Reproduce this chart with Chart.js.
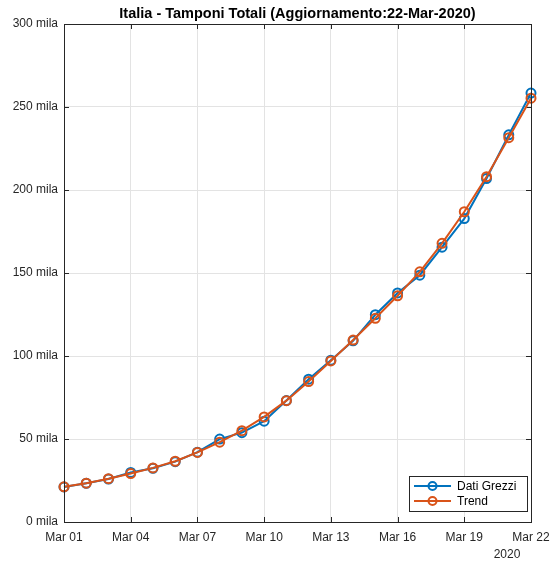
<!DOCTYPE html>
<html><head><meta charset="utf-8">
<script src="https://cdn.jsdelivr.net/npm/chart.js@4/dist/chart.umd.min.js"></script>
<style>html,body{margin:0;padding:0;background:#fff;}canvas{display:block;}</style>
</head><body>
<canvas id="c" width="553" height="564"></canvas>
<script>
const dates = ['Mar 01','Mar 02','Mar 03','Mar 04','Mar 05','Mar 06','Mar 07','Mar 08','Mar 09','Mar 10','Mar 11',
  'Mar 12','Mar 13','Mar 14','Mar 15','Mar 16','Mar 17','Mar 18','Mar 19','Mar 20','Mar 21','Mar 22'];
const datiGrezzi = [21127,23345,25856,29837,32362,36359,42062,49937,53826,60761,73154,
  86011,97488,109170,124899,137962,148657,165541,182777,206886,233222,258402];
const trend = [21200,23400,26100,29200,32600,36600,41900,48100,55000,63300,73100,
  84600,97000,109600,122700,136300,150700,167900,186900,208000,231500,255300];
const seriesNames = ['Dati Grezzi','Trend'];
const seriesColors = ['#0072BD','#D95319'];
const yearLabel = '2020';
const titleText = 'Italia - Tamponi Totali (Aggiornamento:22-Mar-2020)';

const FONT = "'Liberation Sans', Arial, Helvetica, sans-serif";
const TXT = '#262626';

function toPoints(arr){ return arr.map((v,i)=>({x:i+1,y:v})); }

const matlabPlugin = {
  id:'matlab',
  beforeDatasetsDraw(chart){
    const {ctx, chartArea:a, scales:{x,y}} = chart;
    ctx.save();
    ctx.strokeStyle = TXT; ctx.lineWidth = 1;
    const L = 5;
    x.ticks.forEach(t=>{
      const px = Math.round(x.getPixelForValue(t.value))+0.5;
      ctx.beginPath(); ctx.moveTo(px,a.bottom); ctx.lineTo(px,a.bottom-L);
      ctx.moveTo(px,a.top); ctx.lineTo(px,a.top+L); ctx.stroke();
    });
    y.ticks.forEach(t=>{
      const py = Math.round(y.getPixelForValue(t.value))+0.5;
      ctx.beginPath(); ctx.moveTo(a.left,py); ctx.lineTo(a.left+L,py);
      ctx.moveTo(a.right,py); ctx.lineTo(a.right-L,py); ctx.stroke();
    });
    ctx.restore();
  },
  afterDraw(chart){
    const {ctx, chartArea:a, scales:{x}} = chart;
    ctx.save();
    // box
    ctx.strokeStyle = TXT; ctx.lineWidth = 1;
    ctx.strokeRect(Math.round(a.left)+0.5, Math.round(a.top)+0.5, Math.round(a.right-a.left), Math.round(a.bottom-a.top));
    // title centred over the axes
    ctx.fillStyle = '#000'; ctx.font = 'bold 14.5px '+FONT;
    ctx.textAlign = 'center'; ctx.textBaseline = 'alphabetic';
    ctx.fillText(titleText, (a.left+a.right)/2, 18);
    // year label
    ctx.fillStyle = TXT; ctx.font = '12px '+FONT;
    ctx.textAlign = 'center'; ctx.textBaseline = 'middle';
    ctx.fillText(yearLabel, x.getPixelForValue(22)-24, 555);
    // legend
    const bx = 409, by = 476, bw = 118, bh = 35;
    ctx.fillStyle = '#fff'; ctx.fillRect(bx,by,bw,bh);
    ctx.strokeStyle = TXT; ctx.lineWidth = 1; ctx.strokeRect(bx+0.5,by+0.5,bw,bh);
    chart.data.datasets.forEach((ds,i)=>{
      const yy = by + 10 + i*15;
      ctx.strokeStyle = ds.borderColor; ctx.lineWidth = 2;
      ctx.beginPath(); ctx.moveTo(bx+5,yy); ctx.lineTo(bx+42,yy); ctx.stroke();
      ctx.beginPath(); ctx.arc(bx+23.5,yy,4,0,Math.PI*2); ctx.stroke();
      ctx.fillStyle = '#000'; ctx.textAlign='left'; ctx.textBaseline='middle';
      ctx.font = '12px '+FONT;
      ctx.fillText(ds.label, bx+48, yy+0.5);
    });
    ctx.restore();
  }
};

new Chart(document.getElementById('c'), {
  type:'line',
  data:{
    datasets: [datiGrezzi, trend].map((arr,i)=>({
      label: seriesNames[i],
      data: toPoints(arr),
      order: 1 - i,
      borderColor: seriesColors[i],
      backgroundColor: 'rgba(0,0,0,0)',
      pointBackgroundColor: 'rgba(0,0,0,0)',
      pointBorderColor: seriesColors[i],
      pointBorderWidth: 2,
      pointRadius: 4.5,
      borderWidth: 2,
      tension: 0,
      clip: false
    }))
  },
  options:{
    responsive:false, animation:false, devicePixelRatio:1,
    layout:{padding:{left:0,right:22,top:24,bottom:0}},
    plugins:{
      legend:{display:false}, tooltip:{enabled:false}, title:{display:false}
    },
    scales:{
      x:{type:'linear', min:1, max:22,
        ticks:{stepSize:3, color:TXT, font:{family:FONT,size:12}, padding:8, maxRotation:0,
          callback:(v)=>dates[v-1]},
        grid:{color:'#e3e3e3', drawTicks:false},
        border:{color:TXT},
        afterFit:(s)=>{s.height=42; s.paddingLeft=0; s.paddingRight=0;}
      },
      y:{min:0, max:300000,
        ticks:{stepSize:50000, color:TXT, font:{family:FONT,size:12}, padding:6,
          callback:(v)=>(v/1000)+' mila'},
        grid:{color:'#e3e3e3', drawTicks:false},
        border:{color:TXT},
        afterFit:(s)=>{s.width=64; s.paddingTop=0; s.paddingBottom=0;}
      }
    }
  },
  plugins:[matlabPlugin]
});
</script>
</body></html>
